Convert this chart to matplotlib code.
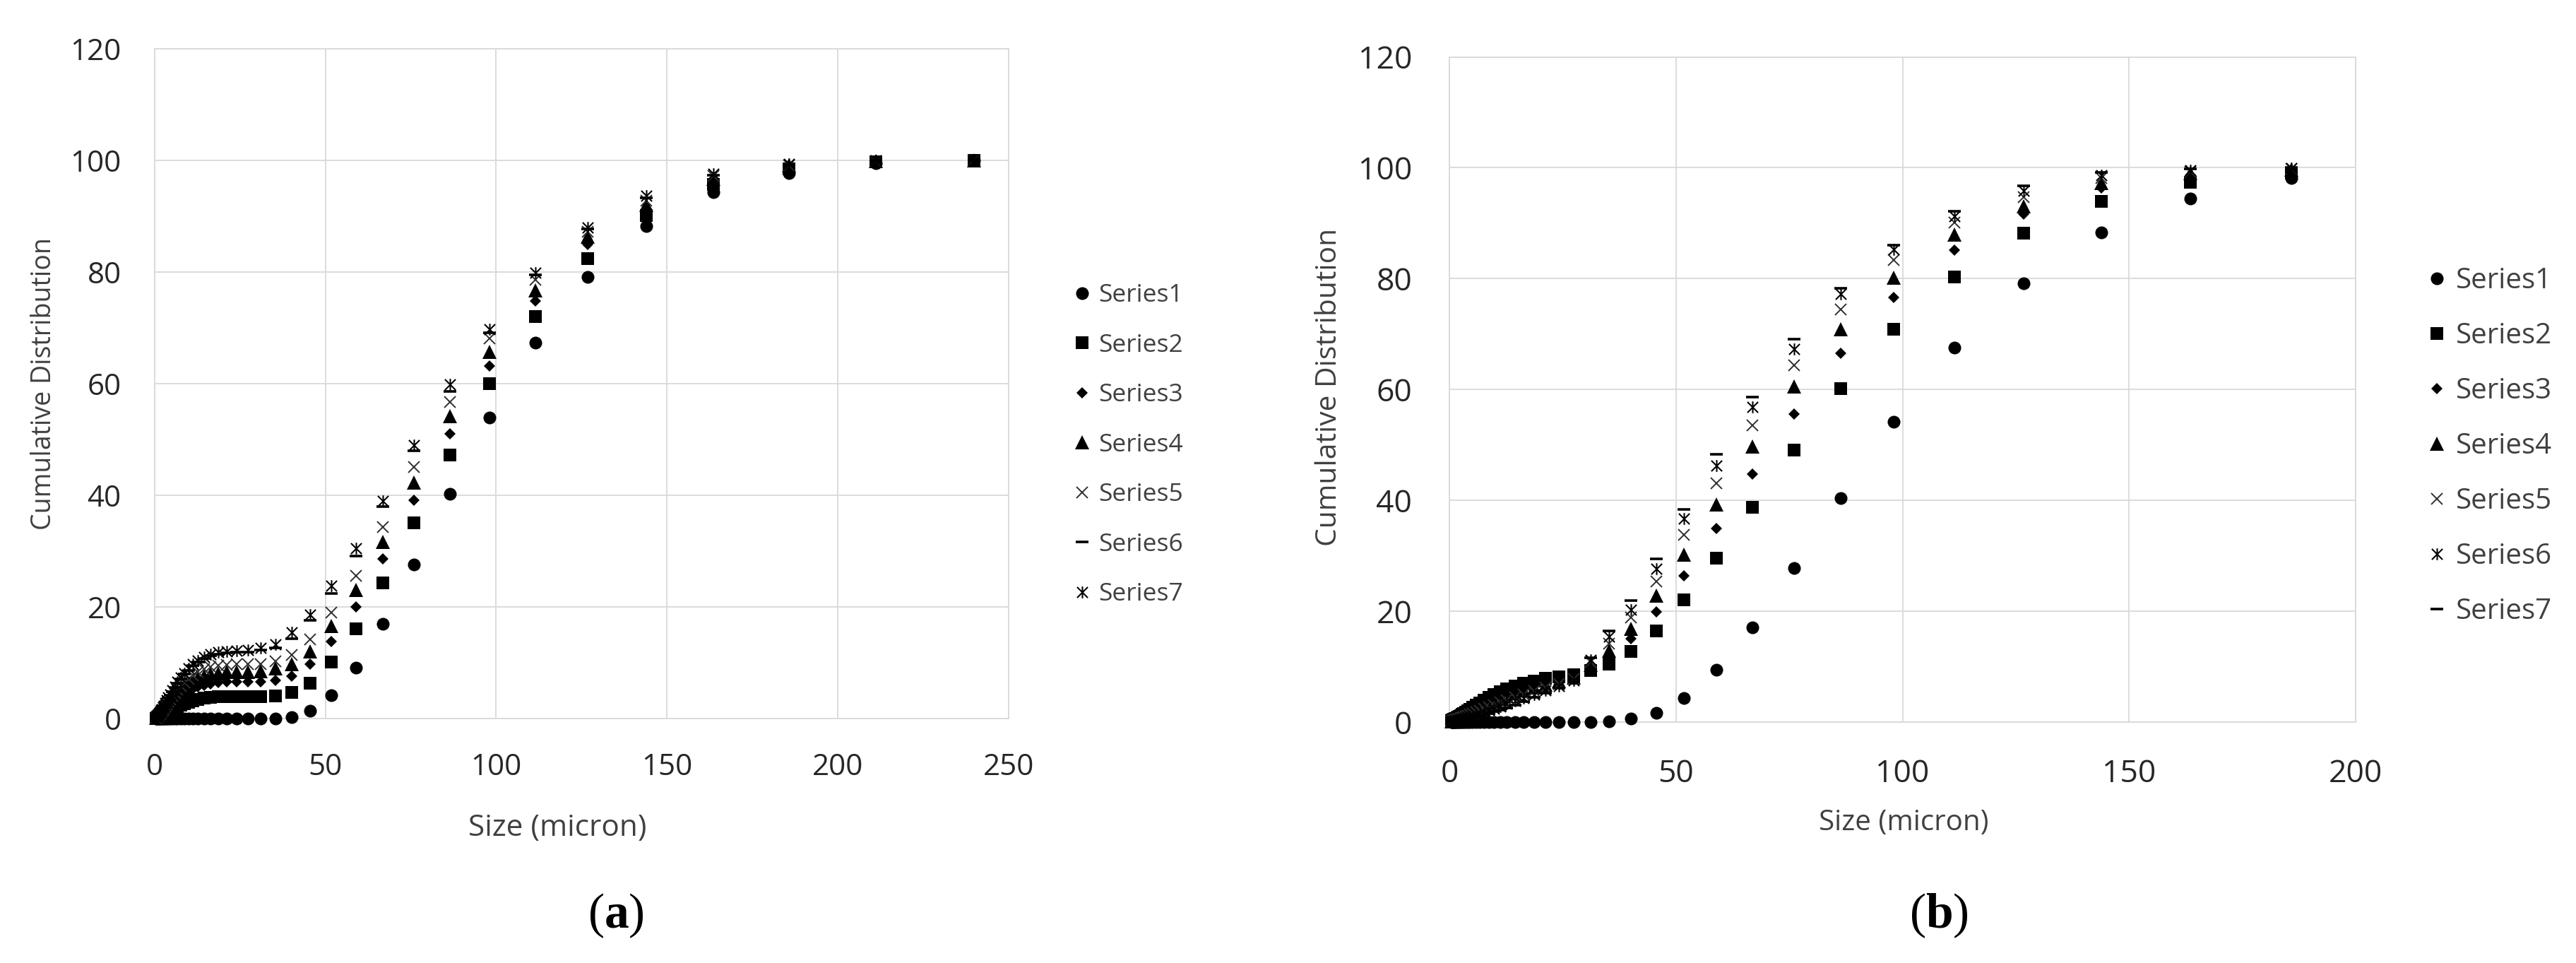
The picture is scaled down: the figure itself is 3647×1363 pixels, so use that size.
import matplotlib
matplotlib.use("Agg")
import matplotlib.pyplot as plt
from matplotlib.path import Path

# ---------------- data ----------------
size_a = [0.53, 0.60, 0.68, 0.77, 0.88, 1.00, 1.13, 1.28, 1.45, 1.65, 1.88, 2.13,
          2.42, 2.75, 3.12, 3.55, 4.03, 4.58, 5.20, 5.92, 6.72, 7.64, 8.68, 9.86,
          11.2, 12.7, 14.5, 16.4, 18.7, 21.2, 24.1, 27.4, 31.1, 35.3, 40.1, 45.6,
          51.8, 58.9, 66.9, 76.0, 86.4, 98.1, 111.5, 126.7, 143.9, 163.5, 185.8,
          211.1, 239.9]
size_b = [0.53, 0.60, 0.68, 0.77, 0.88, 1.00, 1.13, 1.28, 1.45, 1.65, 1.88, 2.13,
          2.42, 2.75, 3.12, 3.55, 4.03, 4.58, 5.20, 5.92, 6.72, 7.64, 8.68, 9.86,
          11.2, 12.7, 14.5, 16.4, 18.7, 21.2, 24.1, 27.4, 31.1, 35.3, 40.1, 45.6,
          51.8, 58.9, 66.9, 76.0, 86.4, 98.1, 111.5, 126.7, 143.9, 163.5, 185.8]

a_s1 = [0, 0, 0, 0, 0, 0, 0, 0, 0, 0, 0, 0, 0, 0, 0, 0, 0, 0, 0, 0, 0, 0, 0, 0,
        0, 0, 0, 0, 0, 0, 0, 0, 0, 0.05, 0.35, 1.4, 4.2, 9.2, 17.0, 27.7, 40.3,
        54.0, 67.4, 79.1, 88.3, 94.4, 97.8, 99.5, 100]
a_s2 = [0.10, 0.11, 0.13, 0.15, 0.18, 0.21, 0.25, 0.29, 0.34, 0.41, 0.49, 0.57,
        0.67, 0.78, 0.91, 1.07, 1.24, 1.43, 1.66, 1.90, 2.16, 2.43, 2.70, 2.97,
        3.25, 3.50, 3.70, 3.85, 3.93, 3.97, 3.99, 4.0, 4.0, 4.1, 4.75, 6.4, 10.2,
        16.1, 24.4, 35.1, 47.3, 60.1, 72.1, 82.5, 90.2, 95.7, 98.5, 99.8, 100]
a_s3 = [0.16, 0.19, 0.22, 0.25, 0.30, 0.35, 0.41, 0.49, 0.57, 0.68, 0.82, 0.95,
        1.12, 1.31, 1.53, 1.80, 2.07, 2.40, 2.78, 3.16, 3.60, 4.03, 4.47, 4.90,
        5.34, 5.72, 6.05, 6.32, 6.49, 6.60, 6.65, 6.70, 6.7, 6.9, 7.7, 9.8, 13.8,
        20.0, 28.6, 39.2, 51.1, 63.2, 74.8, 85.0, 91.3, 96.2, 98.9, 99.8, 100]
a_s4 = [0.21, 0.24, 0.28, 0.31, 0.38, 0.45, 0.52, 0.62, 0.72, 0.86, 1.04, 1.21,
        1.41, 1.66, 1.93, 2.28, 2.62, 3.04, 3.52, 4.00, 4.55, 5.10, 5.66, 6.21,
        6.76, 7.25, 7.66, 8.00, 8.21, 8.35, 8.42, 8.45, 8.5, 9.0, 9.8, 12.1, 16.6,
        23.1, 31.7, 42.3, 54.2, 65.8, 76.8, 86.4, 92.1, 96.8, 99.1, 99.9, 100]
a_s5 = [0.24, 0.28, 0.32, 0.36, 0.44, 0.52, 0.60, 0.72, 0.84, 1.00, 1.20, 1.40,
        1.64, 1.92, 2.24, 2.64, 3.04, 3.52, 4.08, 4.64, 5.28, 5.92, 6.56, 7.20,
        7.84, 8.40, 8.88, 9.28, 9.52, 9.68, 9.76, 9.80, 9.8, 10.3, 11.5, 14.2, 19.0,
        25.6, 34.4, 45.1, 56.8, 68.1, 78.7, 87.2, 92.8, 97.2, 99.2, 99.9, 100]
a_s6 = [0.29, 0.34, 0.39, 0.44, 0.53, 0.63, 0.73, 0.87, 1.00, 1.20, 1.45, 1.70,
        2.00, 2.30, 2.70, 3.20, 3.70, 4.30, 4.90, 5.60, 6.40, 7.20, 8.00, 8.70,
        9.50, 10.2, 10.8, 11.3, 11.6, 11.8, 11.9, 12.0, 12.3, 12.7, 14.4, 17.6, 22.4,
        29.2, 38.0, 48.0, 58.7, 69.2, 79.5, 87.7, 93.3, 97.4, 99.3, 100, 100]
a_s7 = [0.30, 0.35, 0.40, 0.45, 0.55, 0.65, 0.75, 0.90, 1.05, 1.25, 1.50, 1.75,
        2.05, 2.40, 2.80, 3.30, 3.80, 4.40, 5.10, 5.80, 6.60, 7.40, 8.20, 9.00,
        9.80, 10.5, 11.1, 11.6, 11.9, 12.1, 12.2, 12.3, 12.7, 13.4, 15.5, 18.7, 23.8,
        30.6, 39.1, 49.0, 59.9, 69.8, 79.9, 88.0, 93.7, 97.6, 99.4, 100, 100]

b_s1 = [0, 0, 0, 0, 0, 0, 0, 0, 0, 0, 0, 0, 0, 0, 0, 0, 0, 0, 0, 0, 0, 0, 0, 0,
        0, 0, 0, 0, 0, 0, 0, 0, 0, 0.1, 0.6, 1.6, 4.3, 9.4, 17.1, 27.8, 40.4,
        54.2, 67.6, 79.1, 88.3, 94.5, 98.1]
b_s2 = [0.25, 0.28, 0.32, 0.36, 0.41, 0.47, 0.53, 0.60, 0.68, 0.78, 0.90, 1.03,
        1.18, 1.36, 1.56, 1.80, 2.05, 2.35, 2.68, 3.05, 3.45, 3.90, 4.40, 4.95,
        5.50, 6.05, 6.55, 7.00, 7.45, 7.85, 8.20, 8.50, 9.3, 10.4, 12.8, 16.5, 22.1,
        29.6, 38.7, 49.1, 60.2, 70.9, 80.3, 88.2, 93.9, 97.4, 99.0]
b_s3 = [0.21, 0.24, 0.27, 0.30, 0.35, 0.40, 0.45, 0.51, 0.58, 0.66, 0.76, 0.88,
        1.00, 1.16, 1.33, 1.54, 1.75, 2.02, 2.30, 2.63, 2.98, 3.39, 3.83, 4.33,
        4.84, 5.36, 5.86, 6.34, 6.84, 7.32, 7.78, 8.26, 9.8, 11.6, 15.0, 19.9, 26.4,
        34.9, 44.8, 55.6, 66.5, 76.6, 85.1, 91.7, 96.4, 98.6, 99.5]
b_s4 = [0.17, 0.19, 0.22, 0.25, 0.28, 0.32, 0.37, 0.42, 0.47, 0.54, 0.63, 0.72,
        0.83, 0.96, 1.10, 1.27, 1.46, 1.68, 1.93, 2.21, 2.52, 2.87, 3.27, 3.71,
        4.18, 4.67, 5.17, 5.68, 6.23, 6.79, 7.36, 8.02, 10.3, 12.9, 16.8, 22.8, 30.2,
        39.3, 49.7, 60.5, 70.9, 80.2, 87.9, 93.1, 97.3, 99.0, 99.7]
b_s5 = [0.13, 0.15, 0.17, 0.19, 0.22, 0.25, 0.28, 0.32, 0.37, 0.43, 0.49, 0.57,
        0.65, 0.75, 0.87, 1.01, 1.16, 1.35, 1.55, 1.79, 2.05, 2.36, 2.70, 3.09,
        3.52, 3.98, 4.48, 5.02, 5.62, 6.26, 6.94, 7.78, 10.8, 14.2, 18.8, 25.4, 33.8,
        43.1, 53.5, 64.4, 74.5, 83.3, 90.1, 94.7, 98.1, 99.3, 99.8]
b_s6 = [0.09, 0.10, 0.12, 0.14, 0.15, 0.17, 0.20, 0.23, 0.26, 0.31, 0.36, 0.41,
        0.48, 0.55, 0.64, 0.74, 0.87, 1.01, 1.18, 1.37, 1.59, 1.84, 2.14, 2.47,
        2.86, 3.29, 3.79, 4.36, 5.01, 5.73, 6.52, 7.54, 11.2, 15.4, 20.3, 27.6, 36.7,
        46.3, 56.8, 67.3, 77.2, 85.3, 91.2, 95.8, 98.7, 99.6, 99.9]
b_s7 = [0.05, 0.06, 0.07, 0.08, 0.09, 0.10, 0.12, 0.14, 0.16, 0.19, 0.22, 0.26,
        0.30, 0.35, 0.41, 0.48, 0.57, 0.68, 0.80, 0.95, 1.12, 1.33, 1.57, 1.85,
        2.20, 2.60, 3.10, 3.70, 4.40, 5.20, 6.10, 7.30, 11.6, 16.4, 21.9, 29.4, 38.4,
        48.3, 58.6, 69.1, 78.3, 86.1, 92.1, 96.7, 99.2, 99.8, 100]

series_names = ["Series1", "Series2", "Series3", "Series4", "Series5", "Series6", "Series7"]
a_values = [a_s1, a_s2, a_s3, a_s4, a_s5, a_s6, a_s7]
b_values = [b_s1, b_s2, b_s3, b_s4, b_s5, b_s6, b_s7]

a_xticks = [0, 50, 100, 150, 200, 250]
b_xticks = [0, 50, 100, 150, 200]
yticks = [0, 20, 40, 60, 80, 100, 120]

# ---------------- style ----------------
plt.rcParams["font.family"] = ["Open Sans", "DejaVu Sans"]
plt.rcParams["mathtext.fontset"] = "custom"
plt.rcParams["mathtext.rm"] = "Liberation Serif"
plt.rcParams["mathtext.bf"] = "Liberation Serif:bold"

star = Path([(-0.5, -0.5), (0.5, 0.5), (-0.5, 0.5), (0.5, -0.5), (0, -0.55), (0, 0.55)],
            [Path.MOVETO, Path.LINETO, Path.MOVETO, Path.LINETO, Path.MOVETO, Path.LINETO])

st_circle = dict(marker="o", ms=13, mfc="black", mec="black", mew=0)
st_square = dict(marker="s", ms=12.5, mfc="black", mec="black", mew=0)
st_diamond = dict(marker="D", ms=8.4, mfc="black", mec="black", mew=0)
st_tri = dict(marker="^", ms=14, mfc="black", mec="black", mew=0)
st_x = dict(marker="x", ms=11.5, mec="#303030", mew=1.4)
st_dash = dict(marker="_", ms=13, mec="black", mew=2.6)
st_star = dict(marker=star, ms=12, mfc="none", mec="black", mew=1.5)

styles_a = [st_circle, st_square, st_diamond, st_tri, st_x, st_dash, st_star]
styles_b = [st_circle, st_square, st_diamond, st_tri, st_x, st_star, st_dash]

GRID = "#d9d9d9"
TXT = "#262626"

fig = plt.figure(figsize=(36.48, 13.63), dpi=100)


def panel(rect, sizes, values, styles, xmax, xticks, tick_fs, xpad, ypad, leg_fs,
          leg_xy, leg_ls, xlab_xy, xlab_fs, ylab_xy, ylab_fs, cap_xy, cap):
    ax = fig.add_axes(rect)
    handles = []
    for i, (vals, st) in enumerate(zip(values, styles)):
        h, = ax.plot(sizes, vals, linestyle="none", clip_on=False, zorder=3 + i,
                     label=series_names[i], **st)
        handles.append(h)
    ax.set_xlim(0, xmax)
    ax.set_ylim(0, 120)
    ax.set_xticks(xticks)
    ax.set_yticks(yticks)
    ax.grid(True, color=GRID, linewidth=1.3, zorder=0)
    ax.set_axisbelow(True)
    for s in ax.spines.values():
        s.set_color(GRID)
        s.set_linewidth(1.3)
    ax.tick_params(axis="both", length=0, labelsize=tick_fs, colors=TXT)
    ax.tick_params(axis="x", pad=xpad)
    ax.tick_params(axis="y", pad=ypad)
    leg = ax.legend(handles=handles, loc="center left", bbox_to_anchor=leg_xy,
                    bbox_transform=fig.transFigure, frameon=False, fontsize=leg_fs,
                    handlelength=0.8, handletextpad=0.26, labelspacing=leg_ls,
                    borderpad=0, borderaxespad=0, numpoints=1)
    for t in leg.get_texts():
        t.set_color("#404040")
    fig.text(xlab_xy[0], xlab_xy[1], "Size (micron)", fontsize=xlab_fs, color="#404040",
             ha="center", va="center")
    fig.text(ylab_xy[0], ylab_xy[1], "Cumulative Distribution", fontsize=ylab_fs,
             color="#404040", ha="center", va="center", rotation=90)
    fig.text(cap_xy[0], cap_xy[1], "(" + r"$\mathbf{" + cap + "}$" + ")", fontsize=50,
             family="Liberation Serif", color="black", ha="center", va="center")
    return ax


panel([0.0600, 0.2535, 0.3314, 0.6957], size_a, a_values, styles_a, 250, a_xticks,
      30.3, 34, 34, 25.5, (0.4160, 0.5380), 1.03, (0.2163, 0.1404), 30.5,
      (0.0170, 0.6013), 27, (0.2390, 0.0494), "a")
panel([0.5625, 0.2502, 0.3517, 0.6907], size_b, b_values, styles_b, 200, b_xticks,
      32, 37, 38, 29, (0.9413, 0.5367), 0.93, (0.7388, 0.1453), 29,
      (0.5159, 0.5980), 29.3, (0.7525, 0.0494), "b")

fig.savefig("out.png", dpi=100, facecolor="white")
